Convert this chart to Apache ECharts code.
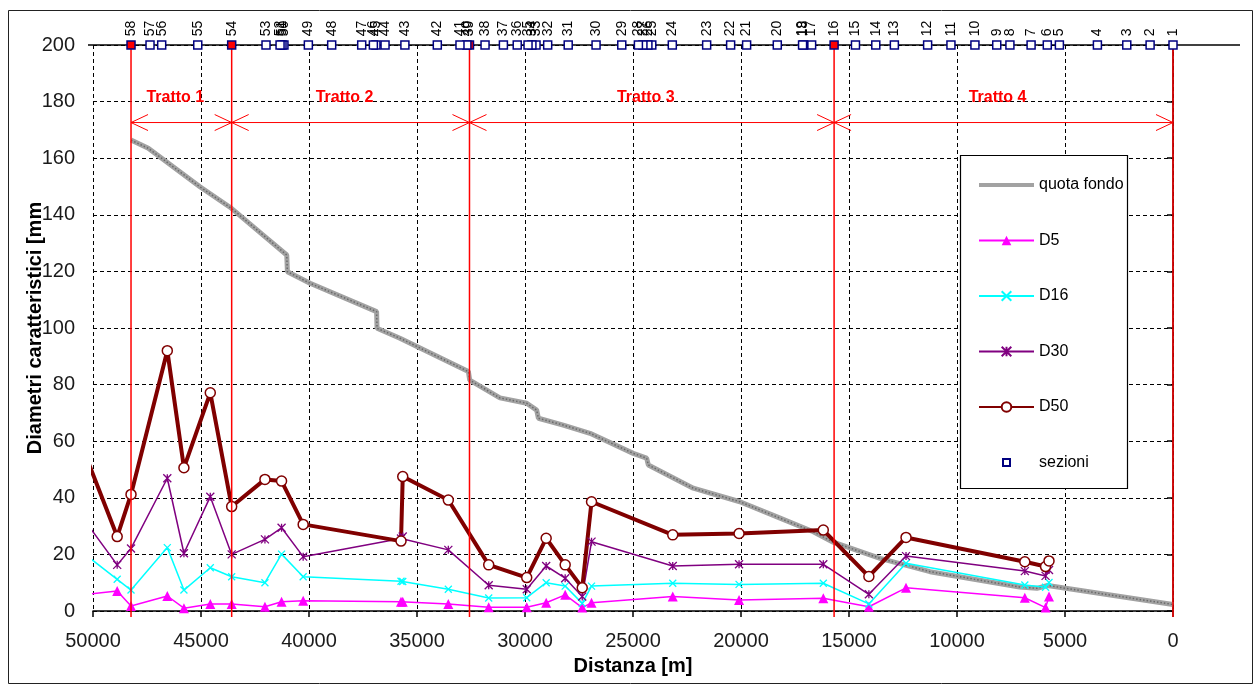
<!DOCTYPE html>
<html>
<head>
<meta charset="utf-8">
<title>Diametri caratteristici lungo l'asta</title>
<script src="https://cdn.jsdelivr.net/npm/echarts@6/dist/echarts.min.js"></script>
<style>
  html, body { margin: 0; padding: 0; background: #ffffff; }
  #chart { width: 1255px; height: 686px; }
</style>
</head>
<body>
<div id="chart"></div>
<script>
// Sezioni di rilievo: numero e distanza dalla foce [m]
const sectionIds = [
  1, 2, 3, 4, 5, 6, 7, 8, 9, 10,
  11, 12, 13, 14, 15, 16, 17, 18, 19, 20,
  21, 22, 23, 24, 25, 26, 27, 28, 29, 30,
  31, 32, 33, 34, 35, 36, 37, 38, 39, 40,
  41, 42, 43, 44, 45, 46, 47, 48, 49, 50,
  51, 52, 53, 54, 55, 56, 57, 58
];
const sectionDist = [
  0, 1060, 2140, 3500, 5260, 5820, 6570, 7550, 8160, 9170,
  10280, 11360, 12900, 13760, 14700, 15690, 16730, 17100, 17150, 18320,
  19740, 20480, 21590, 23180, 24130, 24310, 24540, 24750, 25520, 26710,
  28000, 28950, 29490, 29680, 29860, 30360, 31000, 31850, 32570, 32690,
  33010, 34060, 35560, 36480, 36900, 37020, 37560, 38950, 40030, 41160,
  41250, 41340, 41990, 43580, 45150, 46820, 47360, 48240
];

// Sezioni che delimitano i tratti omogenei
const reachLimits = [58, 54, 39, 16, 1];
const reachNames = ['Tratto 1', 'Tratto 2', 'Tratto 3', 'Tratto 4'];

// Profilo della quota di fondo
const bedDist = [
  48240, 47440, 45050, 43590, 42040, 41030, 41000, 39950, 36870, 36850,
  35790, 32620, 32560, 31160, 29920, 29460, 29380, 28230, 26990, 24990,
  24370, 24290, 22210, 20050, 18190, 16650, 15730, 13560, 11250, 7100,
  6300, 5800, 0
];
const bedLevel = [
  166.4, 163.5, 149.9, 142.3, 132.3, 125.8, 119.9, 115.8, 105.8, 99.9,
  96.4, 84.6, 81.6, 75.3, 73.4, 71.0, 68.1, 65.7, 62.8, 55.7,
  54.0, 51.6, 43.4, 38.6, 32.8, 28.0, 24.3, 18.6, 13.9, 8.5,
  8.0, 9.0, 2.3
];

// Punti di campionamento granulometrico [m] e diametri caratteristici [mm]
const sampleDist = [
  50230, 48880, 48240, 46560, 45790, 44570, 43580, 42040, 41270, 40270,
  35740, 35660, 33550, 31680, 29920, 29020, 28140, 27350, 26920, 23160,
  20090, 16190, 14080, 12360, 6860, 5900, 5740
];
const d5 = [
  5.9, 7.1, 1.8, 5.3, 1.0, 2.5, 2.5, 1.5, 3.3, 3.6,
  3.3, 3.3, 2.5, 1.3, 1.3, 2.9, 5.7, 1.2, 2.9, 5.1,
  3.9, 4.5, 1.5, 8.2, 4.7, 1.2, 5.1
];
const d16 = [
  19.2, 11.2, 7.4, 22.4, 7.4, 15.3, 12.1, 10.0, 20.1, 12.1,
  10.5, 10.4, 7.7, 4.6, 4.7, 10.0, 8.8, 2.7, 8.8, 9.8,
  9.4, 9.8, 2.5, 16.9, 9.2, 8.4, 10.1
];
const d30 = [
  30.4, 16.3, 22.1, 46.9, 20.4, 40.4, 20.0, 25.3, 29.4, 19.2,
  25.6, 26.3, 21.6, 9.1, 7.7, 15.9, 11.6, 5.1, 24.5, 15.9,
  16.5, 16.5, 5.9, 19.4, 14.1, 12.4, 14.5
];
const d50 = [
  52.8, 26.3, 41.2, 92.0, 50.6, 77.1, 36.9, 46.5, 45.9, 30.6,
  24.7, 47.5, 39.2, 16.3, 11.8, 25.7, 16.3, 8.2, 38.6, 26.9,
  27.4, 28.6, 12.2, 26.0, 17.4, 15.7, 17.7
];

// Assi
const xRange = { min: 0, max: 50000, step: 5000 };
const yRange = { min: 0, max: 200, step: 20 };

// ---- drawing ----
const FONT = "'Liberation Sans', Arial, sans-serif";
const RED = '#ff0000';
const ARROW_LEVEL = 172.6;   // quota della freccia dei tratti
const NAME_LEVEL = 181.3;    // quota delle scritte dei tratti
const TOP_LEVEL = yRange.max;

const distOf = id => sectionDist[sectionIds.indexOf(id)];
const pairs = (xs, ys) => xs.map((x, i) => [x, ys[i]]);
// il primo campione cade appena fuori dall'asse: solo linea, senza simbolo
const sampleSeriesData = vals => sampleDist.map((d, i) =>
  i === 0 ? { value: [d, vals[i]], symbolSize: 0 } : [d, vals[i]]);

const reachData = reachNames.map((n, i) =>
  [distOf(reachLimits[i]), distOf(reachLimits[i + 1]), i]);
const limitData = reachLimits.map(id => [distOf(id), 0]);

const sectionData = sectionIds.map((id, i) => {
  const item = { value: [sectionDist[i], TOP_LEVEL, id] };
  if (reachLimits.indexOf(id) >= 0 && id !== 1) {
    item.itemStyle = { color: RED, borderColor: '#000080' };
  }
  return item;
});

const X_SYMBOL = 'path://M0,0L10,10M10,0L0,10';
const STAR_SYMBOL = 'path://M0,0L10,10M10,0L0,10M5,0L5,10';
const SQUARE_ICON = 'path://M0,0L0,0M12,12L12,12M2.5,2.5L9.5,2.5L9.5,9.5L2.5,9.5Z';
const BAND_ICON = 'path://M0,0L55,0L55,4L0,4Z';

const chart = echarts.init(document.getElementById('chart'), null, { renderer: 'canvas' });

const option = {
  animation: false,
  backgroundColor: '#ffffff',
  grid: { left: 93, right: 82, top: 45, bottom: 75, containLabel: false },
  xAxis: {
    type: 'value',
    inverse: true,
    min: xRange.min, max: xRange.max, interval: xRange.step,
    name: 'Distanza [m]',
    nameLocation: 'middle',
    nameGap: 45,
    nameMoveOverlap: false,
    nameTextStyle: { fontFamily: FONT, fontSize: 20, fontWeight: 'bold', color: '#000' },
    axisLine: { show: true, onZero: false, lineStyle: { color: '#000', width: 1.5 } },
    axisTick: { show: true, length: 6, lineStyle: { color: '#000', width: 1.5 } },
    axisLabel: { fontFamily: FONT, fontSize: 20, color: '#1a1a1a', margin: 20, formatter: v => String(v) },
    splitLine: { show: true, lineStyle: { color: '#000', width: 1, type: [4, 3] } }
  },
  yAxis: {
    type: 'value',
    min: yRange.min, max: yRange.max, interval: yRange.step,
    name: 'Diametri caratteristici [mm',
    nameLocation: 'middle',
    nameGap: 48,
    nameMoveOverlap: false,
    nameTextStyle: { fontFamily: FONT, fontSize: 20, fontWeight: 'bold', color: '#000' },
    axisLine: { show: true, lineStyle: { color: '#000', width: 1.5 } },
    axisTick: { show: true, length: 6, lineStyle: { color: '#000', width: 1.5 } },
    axisLabel: { fontFamily: FONT, fontSize: 20, color: '#1a1a1a', margin: 18 },
    splitLine: { show: true, lineStyle: { color: '#000', width: 1, type: [4, 3] } }
  },
  legend: {
    orient: 'vertical',
    left: 973,
    top: 172,
    itemWidth: 55,
    itemHeight: 12,
    itemGap: 39.5,
    selectedMode: false,
    z: 10,
    textStyle: { fontFamily: FONT, fontSize: 16, color: '#000' },
    data: [
      { name: 'quota fondo', icon: BAND_ICON },
      'D5', 'D16', 'D30', 'D50',
      { name: 'sezioni', icon: SQUARE_ICON }
    ]
  },
  graphic: [
    {
      type: 'rect', z: 0,
      shape: { x: 8.5, y: 10.5, width: 1244, height: 673 },
      style: { fill: null, stroke: '#222', lineWidth: 1 }
    },
    {
      type: 'line', z: 1,
      shape: { x1: 88, y1: 45, x2: 1240, y2: 45 },
      style: { stroke: '#000', lineWidth: 1.5 }
    },
    {
      type: 'rect', z: 5,
      shape: { x: 960.5, y: 155.5, width: 167, height: 333 },
      style: { fill: '#ffffff', stroke: '#000', lineWidth: 1.2 }
    }
  ],
  series: [
    {
      name: 'quota fondo',
      type: 'line',
      data: pairs(bedDist, bedLevel),
      symbol: 'none',
      z: 2,
      lineStyle: { color: '#a2a2a2', width: 5 },
      itemStyle: { color: '#a2a2a2' }
    },
    {
      name: 'quota fondo (tratteggio)',
      type: 'line',
      data: pairs(bedDist, bedLevel),
      symbol: 'none',
      silent: true,
      z: 2,
      lineStyle: { color: '#6a6a6a', width: 1.5, type: [1.5, 2] }
    },
    {
      name: 'D5',
      type: 'line',
      data: sampleSeriesData(d5),
      clip: false,
      showAllSymbol: true,
      symbol: 'triangle',
      symbolSize: 10,
      z: 3,
      lineStyle: { color: '#ff00ff', width: 1.5 },
      itemStyle: { color: '#ff00ff' }
    },
    {
      name: 'D16',
      type: 'line',
      data: sampleSeriesData(d16),
      clip: false,
      showAllSymbol: true,
      symbol: X_SYMBOL,
      symbolSize: 7,
      z: 3,
      lineStyle: { color: '#00ffff', width: 1.5 },
      itemStyle: { color: '#00ffff', borderColor: '#00ffff', borderWidth: 1.3 }
    },
    {
      name: 'D30',
      type: 'line',
      data: sampleSeriesData(d30),
      clip: false,
      showAllSymbol: true,
      symbol: STAR_SYMBOL,
      symbolSize: 8,
      z: 3,
      lineStyle: { color: '#800080', width: 1.5 },
      itemStyle: { color: '#800080', borderColor: '#800080', borderWidth: 1.3 }
    },
    {
      name: 'D50',
      type: 'line',
      data: sampleSeriesData(d50),
      clip: false,
      showAllSymbol: true,
      symbol: 'circle',
      symbolSize: 10,
      z: 3,
      lineStyle: { color: '#800000', width: 4 },
      itemStyle: { color: '#ffffff', borderColor: '#800000', borderWidth: 1.5 }
    },
    {
      name: 'limiti tratti',
      type: 'custom',
      data: limitData,
      z: 4,
      silent: true,
      renderItem: function (params, api) {
        const top = api.coord([api.value(0), TOP_LEVEL]);
        const bottom = api.coord([api.value(0), yRange.min]);
        return {
          type: 'line',
          shape: { x1: top[0], y1: top[1], x2: bottom[0], y2: bottom[1] + 6 },
          style: { stroke: RED, lineWidth: 1.5 }
        };
      }
    },
    {
      name: 'tratti',
      type: 'custom',
      data: reachData,
      z: 4,
      silent: true,
      renderItem: function (params, api) {
        const a = api.coord([api.value(0), ARROW_LEVEL]);
        const b = api.coord([api.value(1), ARROW_LEVEL]);
        const t = api.coord([(api.value(0) + api.value(1)) / 2, NAME_LEVEL]);
        const y = a[1];
        const L = 17, W = 8;
        const stroke = { stroke: RED, fill: null, lineWidth: 1 };
        return {
          type: 'group',
          children: [
            { type: 'line', shape: { x1: a[0], y1: y, x2: b[0], y2: y }, style: stroke },
            { type: 'polyline', shape: { points: [[a[0] + L, y - W], [a[0], y], [a[0] + L, y + W]] }, style: stroke },
            { type: 'polyline', shape: { points: [[b[0] - L, y - W], [b[0], y], [b[0] - L, y + W]] }, style: stroke },
            {
              type: 'text',
              style: {
                text: reachNames[api.value(2)],
                x: t[0] - 6, y: t[1],
                fill: RED,
                font: "bold 16px 'Liberation Sans', Arial, sans-serif",
                align: 'center', verticalAlign: 'middle'
              }
            }
          ]
        };
      }
    },
    {
      name: 'sezioni',
      type: 'scatter',
      data: sectionData,
      clip: false,
      symbol: 'rect',
      symbolSize: 8,
      z: 6,
      itemStyle: { color: '#ffffff', borderColor: '#000080', borderWidth: 1.5, opacity: 1 },
      label: {
        show: true,
        position: 'top',
        distance: 4,
        rotate: 90,
        align: 'left',
        verticalAlign: 'middle',
        fontFamily: FONT,
        fontSize: 14,
        color: '#000',
        formatter: p => String(p.value[2])
      },
      labelLayout: { hideOverlap: false }
    }
  ]
};

chart.setOption(option);
</script>
</body>
</html>
